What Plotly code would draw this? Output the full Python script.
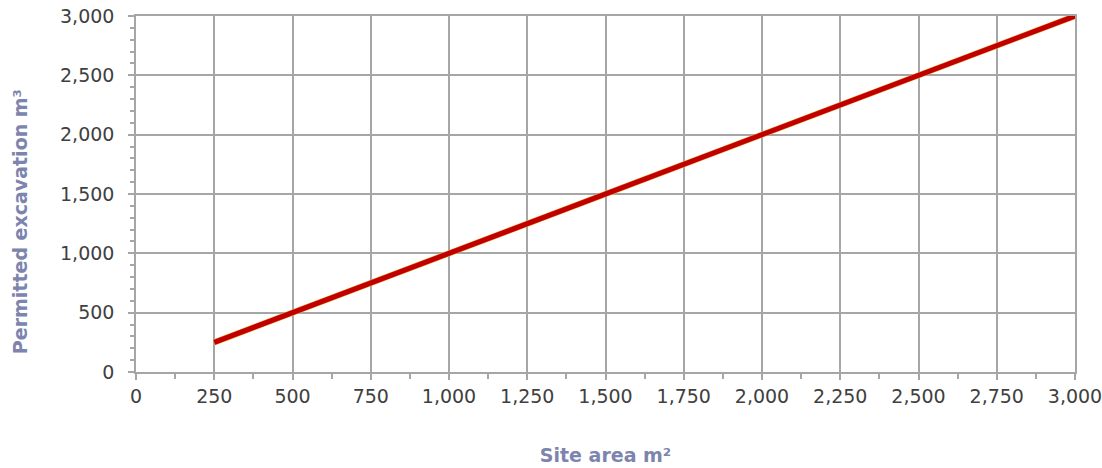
import plotly.graph_objects as go

site_area = [250, 500, 750, 1000, 1250, 1500, 1750, 2000, 2250, 2500, 2750, 3000]
permitted_excavation = [250, 500, 750, 1000, 1250, 1500, 1750, 2000, 2250, 2500, 2750, 3000]

x_ticks = [0, 250, 500, 750, 1000, 1250, 1500, 1750, 2000, 2250, 2500, 2750, 3000]
y_ticks = [0, 500, 1000, 1500, 2000, 2500, 3000]

fig = go.Figure()
fig.add_trace(go.Scatter(
    x=site_area, y=permitted_excavation, mode="lines",
    line=dict(color="#F0A030", width=6), hoverinfo="skip", showlegend=False,
))
fig.add_trace(go.Scatter(
    x=site_area, y=permitted_excavation, mode="lines",
    line=dict(color="#C00000", width=5), showlegend=False,
))

tick_font = dict(family="DejaVu Sans", size=19, color="#404040")
title_font = dict(family="DejaVu Sans", size=19, color="#7D84AE")
grid = "#A6A6A6"

fig.update_layout(
    width=1102, height=468,
    margin=dict(l=136, r=27, t=16, b=96),
    paper_bgcolor="white", plot_bgcolor="white",
    xaxis=dict(
        range=[0, 3000], tickvals=x_ticks, automargin=False,
        ticktext=[f"{v:,}" for v in x_ticks], ticklabeloverflow="allow",
        showgrid=True, gridcolor=grid, gridwidth=1.5,
        showline=True, linecolor=grid, linewidth=1.5, mirror=True,
        ticks="outside", ticklen=6, tickcolor=grid, tickwidth=1.5,
        minor=dict(dtick=125, tick0=0, ticks="outside", ticklen=5,
                   tickcolor=grid, showgrid=False),
        tickfont=tick_font, zeroline=False,
        title=dict(text="<b>Site area m²</b>", font=title_font, standoff=43),
    ),
    yaxis=dict(
        range=[0, 3000], tickvals=y_ticks, automargin=False,
        ticktext=[f"{v:,}" for v in y_ticks], ticklabeloverflow="allow",
        showgrid=True, gridcolor=grid, gridwidth=1.5,
        showline=True, linecolor=grid, linewidth=1.5, mirror=True,
        ticks="outside", ticklen=6, tickcolor=grid, tickwidth=1.5,
        minor=dict(dtick=100, tick0=0, ticks="outside", ticklen=4,
                   tickcolor=grid, showgrid=False),
        tickfont=tick_font, zeroline=False, ticklabelstandoff=10,
    ),
    annotations=[dict(
        text="<b>Permitted excavation m³</b>", font=title_font,
        textangle=-90, xref="paper", yref="paper",
        x=-0.1235, y=0.421, xanchor="center", yanchor="middle",
        showarrow=False,
    )],
)

fig.write_html(
    "out.html",
    config={"displayModeBar": False},
    post_script="document.body.style.margin='0';",
)
